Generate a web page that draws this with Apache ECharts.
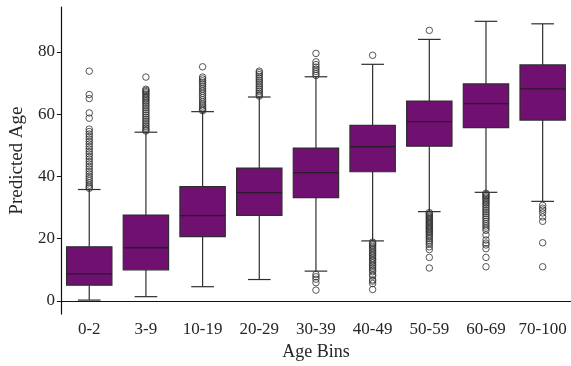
<!DOCTYPE html>
<html>
<head>
<meta charset="utf-8">
<script src="https://cdn.jsdelivr.net/npm/echarts@6/dist/echarts.min.js"></script>
<style>html,body{margin:0;padding:0;background:#fff;}#c{width:571px;height:366px;}</style>
</head>
<body>
<div id="c"></div>
<script>
var categories = ['0-2','3-9','10-19','20-29','30-39','40-49','50-59','60-69','70-100'];
var lowWhisker  = [0.3, 1.4, 4.6, 6.9, 9.6, 19.3, 28.7, 34.9, 32.0];
var q1          = [5.1, 10.0, 20.7, 27.5, 33.2, 41.5, 49.7, 55.7, 58.1];
var median      = [8.7, 17.1, 27.4, 34.8, 41.2, 49.6, 57.6, 63.4, 68.1];
var q3          = [17.4, 27.6, 36.7, 42.7, 49.1, 56.4, 64.2, 69.7, 75.8];
var highWhisker = [35.8, 54.2, 60.8, 65.5, 72.0, 76.0, 84.0, 89.8, 89.0];
var outlierValues = [
  [73.8, 66.3, 65.0, 60.4, 58.7, 55.2, 54.4, 53.6, 52.8, 52.0, 51.2, 50.4, 49.6, 48.8, 48.0, 47.2, 46.4, 45.6, 44.8, 44.0, 43.2, 42.4, 41.6, 40.8, 40.0, 39.3, 38.6, 37.9, 37.2, 36.6, 36.2],
  [71.9, 68.0, 67.6, 67.2, 66.8, 66.3, 65.8, 65.3, 64.8, 64.3, 63.8, 63.2, 62.6, 62.0, 61.4, 60.8, 60.2, 59.6, 59.0, 58.4, 57.8, 57.2, 56.6, 56.0, 55.5, 55.0, 54.6],
  [75.2, 71.9, 71.3, 70.7, 70.1, 69.5, 68.8, 68.1, 67.4, 66.7, 66.0, 65.3, 64.6, 63.9, 63.2, 62.6, 62.0, 61.5, 61.1],
  [73.8, 73.3, 72.7, 72.1, 71.5, 70.9, 70.3, 69.7, 69.1, 68.5, 67.9, 67.3, 66.7, 66.2, 65.8],
  [79.5, 76.8, 75.9, 75.1, 74.4, 73.7, 73.0, 72.4, 8.5, 7.8, 7.0, 5.9, 3.5],
  [78.9, 18.9, 18.4, 18.0, 17.5, 17.0, 16.5, 15.9, 15.4, 14.9, 14.4, 13.8, 13.3, 12.8, 12.3, 11.7, 11.2, 10.6, 10.0, 9.4, 8.5, 8.0, 6.8, 6.4, 5.6, 3.7],
  [86.9, 28.4, 28.0, 27.6, 27.2, 26.8, 26.4, 26.0, 25.6, 25.2, 24.8, 24.4, 24.0, 23.6, 23.2, 22.8, 22.4, 22.0, 21.5, 21.0, 20.5, 20.0, 19.4, 18.8, 18.2, 17.4, 16.5, 14.0, 10.6],
  [34.6, 34.2, 33.8, 33.4, 33.0, 32.5, 32.0, 31.5, 31.0, 30.4, 29.8, 29.2, 28.6, 28.0, 27.4, 26.8, 26.2, 25.5, 24.8, 24.1, 23.4, 22.7, 21.2, 19.6, 18.6, 18.0, 16.8, 14.0, 11.0],
  [30.7, 29.8, 29.2, 28.3, 27.0, 25.6, 18.7, 11.0]
];
var yTicks = [0, 20, 40, 60, 80];

var boxData = categories.map(function (c, i) {
  return [i, lowWhisker[i], q1[i], median[i], q3[i], highWhisker[i]];
});
var outlierData = [];
outlierValues.forEach(function (arr, i) {
  arr.forEach(function (v) { outlierData.push([i, v]); });
});

var FONT = '"Liberation Serif", "DejaVu Serif", serif';
var LINE = '#2e2e2e';
var chart = echarts.init(document.getElementById('c'), null, {renderer: 'canvas'});
chart.setOption({
  animation: false,
  backgroundColor: '#fff',
  grid: {left: 52, top: 7, width: 521, height: 311},
  xAxis: {
    type: 'category',
    data: categories,
    boundaryGap: true,
    name: 'Age Bins',
    nameLocation: 'middle',
    nameGap: 28,
    nameTextStyle: {fontFamily: FONT, fontSize: 18, color: '#262626'},
    axisLine: {lineStyle: {color: '#111', width: 1.2}},
    axisTick: {alignWithLabel: true, length: 4, lineStyle: {color: '#111', width: 1}},
    axisLabel: {fontFamily: FONT, fontSize: 17, color: '#262626', margin: 7, interval: 0},
    splitLine: {show: false}
  },
  yAxis: {
    type: 'value',
    min: -4.2,
    max: 94.4,
    name: 'Predicted Age',
    nameLocation: 'middle',
    nameGap: 27,
    nameRotate: 90,
    nameTextStyle: {fontFamily: FONT, fontSize: 19, color: '#262626'},
    axisLine: {show: true, lineStyle: {color: '#111', width: 1.2}},
    axisTick: {show: true, length: 4, customValues: yTicks, lineStyle: {color: '#111', width: 1}},
    axisLabel: {fontFamily: FONT, fontSize: 17, color: '#262626', margin: 6, customValues: yTicks},
    splitLine: {show: false}
  },
  series: [
    {
      type: 'custom',
      data: boxData,
      encode: {x: 0, y: [1, 2, 3, 4, 5]},
      renderItem: function (params, api) {
        var i = api.value(0);
        var band = api.size([1, 0])[0];
        var hw = band * 0.4;
        var cw = band * 0.2;
        var pLow = api.coord([i, api.value(1)]);
        var pQ1 = api.coord([i, api.value(2)]);
        var pMed = api.coord([i, api.value(3)]);
        var pQ3 = api.coord([i, api.value(4)]);
        var pHigh = api.coord([i, api.value(5)]);
        var x = pQ1[0];
        var ls = {stroke: LINE, lineWidth: 1.2};
        return {
          type: 'group',
          children: [
            {type: 'line', shape: {x1: x, y1: pQ1[1], x2: x, y2: pLow[1]}, style: ls},
            {type: 'line', shape: {x1: x, y1: pQ3[1], x2: x, y2: pHigh[1]}, style: ls},
            {type: 'line', shape: {x1: x - cw, y1: pLow[1], x2: x + cw, y2: pLow[1]}, style: ls},
            {type: 'line', shape: {x1: x - cw, y1: pHigh[1], x2: x + cw, y2: pHigh[1]}, style: ls},
            {type: 'rect', shape: {x: x - hw, y: pQ3[1], width: 2 * hw, height: pQ1[1] - pQ3[1]},
              style: {fill: '#701070', stroke: LINE, lineWidth: 1.2}},
            {type: 'line', shape: {x1: x - hw, y1: pMed[1], x2: x + hw, y2: pMed[1]}, style: {stroke: '#2a1a2a', lineWidth: 1.3}}
          ]
        };
      }
    },
    {
      type: 'scatter',
      data: outlierData,
      symbol: 'circle',
      symbolSize: 6.5,
      itemStyle: {color: 'rgba(0,0,0,0)', borderColor: LINE, borderWidth: 1},
      z: 3
    }
  ]
});
</script>
</body>
</html>
